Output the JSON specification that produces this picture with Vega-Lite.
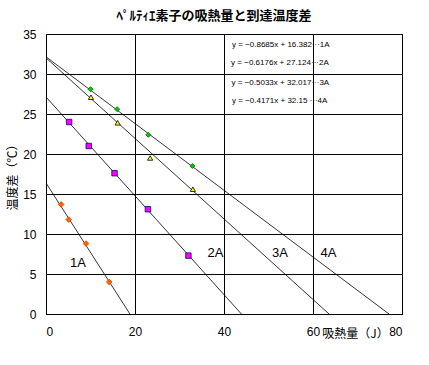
{
  "$schema": "https://vega.github.io/schema/vega-lite/v6.json",
  "width": 356,
  "height": 280,
  "autosize": {"type": "none"},
  "padding": {"left": 46, "top": 34, "right": 27, "bottom": 51},
  "background": "white",
  "title": {
    "text": "ﾍﾟﾙﾃｨｴ素子の吸熱量と到達温度差",
    "font": "Noto Sans CJK JP",
    "fontSize": 13,
    "fontWeight": "bold",
    "color": "black",
    "anchor": "middle",
    "dx": -10,
    "offset": 5
  },
  "config": {
    "view": {"stroke": "black", "strokeWidth": 1},
    "axis": {
      "grid": true,
      "gridColor": "black",
      "gridOpacity": 1,
      "gridWidth": 1,
      "domainColor": "black",
      "domainWidth": 1,
      "ticks": false,
      "labelFont": "Liberation Sans",
      "labelFontSize": 12,
      "labelColor": "black",
      "titleFont": "Noto Sans CJK JP",
      "titleFontSize": 12,
      "titleFontWeight": "normal",
      "titleColor": "black"
    }
  },
  "datasets": {
    "points": [
      {"x": 3.4, "y": 13.7, "series": "1A"},
      {"x": 5.1, "y": 11.8, "series": "1A"},
      {"x": 9.0, "y": 8.8, "series": "1A"},
      {"x": 14.2, "y": 4.0, "series": "1A"},
      {"x": 5.2, "y": 24.0, "series": "2A"},
      {"x": 9.6, "y": 21.0, "series": "2A"},
      {"x": 15.4, "y": 17.6, "series": "2A"},
      {"x": 22.9, "y": 13.1, "series": "2A"},
      {"x": 32.0, "y": 7.3, "series": "2A"},
      {"x": 10.1, "y": 27.1, "series": "3A"},
      {"x": 16.1, "y": 23.9, "series": "3A"},
      {"x": 23.4, "y": 19.5, "series": "3A"},
      {"x": 33.0, "y": 15.6, "series": "3A"},
      {"x": 10.0, "y": 28.1, "series": "4A"},
      {"x": 16.0, "y": 25.6, "series": "4A"},
      {"x": 23.0, "y": 22.4, "series": "4A"},
      {"x": 32.9, "y": 18.5, "series": "4A"}
    ],
    "trend": [
      {"x": 0, "y": 16.382, "series": "1A"},
      {"x": 18.86, "y": 0, "series": "1A"},
      {"x": 0, "y": 27.124, "series": "2A"},
      {"x": 43.92, "y": 0, "series": "2A"},
      {"x": 0, "y": 32.017, "series": "3A"},
      {"x": 63.61, "y": 0, "series": "3A"},
      {"x": 0, "y": 32.15, "series": "4A"},
      {"x": 77.08, "y": 0, "series": "4A"}
    ],
    "equations": [
      {"x": 41.8, "y": 33.65, "text": "y = −0.8685x + 16.382···1A"},
      {"x": 41.6, "y": 31.4, "text": "y = −0.6176x + 27.124···2A"},
      {"x": 41.7, "y": 28.86, "text": "y = −0.5033x + 32.017···3A"},
      {"x": 41.8, "y": 26.57, "text": "y = −0.4171x + 32.15    ···4A"}
    ],
    "labels": [
      {"x": 7.2, "y": 6.4, "text": "1A"},
      {"x": 38.1, "y": 7.6, "text": "2A"},
      {"x": 52.6, "y": 7.6, "text": "3A"},
      {"x": 63.5, "y": 7.6, "text": "4A"}
    ]
  },
  "encoding": {
    "x": {
      "field": "x", "type": "quantitative",
      "scale": {"domain": [0, 80], "nice": false},
      "axis": {
        "values": [0, 20, 40, 60, 80],
        "labelPadding": 12,
        "title": "吸熱量（J）",
        "titleX": 309,
        "titleY": 19,
        "titleAlign": "center",
        "titleBaseline": "middle",
        "titleAnchor": null
      }
    },
    "y": {
      "field": "y", "type": "quantitative",
      "scale": {"domain": [0, 35], "nice": false},
      "axis": {
        "values": [0, 5, 10, 15, 20, 25, 30, 35],
        "labelPadding": 10,
        "title": "温度差（℃）",
        "titleX": -34,
        "titleY": 140,
        "titleAlign": "center",
        "titleBaseline": "middle",
        "titleAngle": -90
      }
    }
  },
  "layer": [
    {
      "data": {"name": "trend"},
      "mark": {"type": "line", "color": "black", "strokeWidth": 0.8, "clip": true},
      "encoding": {"detail": {"field": "series"}}
    },
    {
      "data": {"name": "points"},
      "mark": {"type": "point", "filled": true, "strokeWidth": 0.8, "opacity": 1},
      "encoding": {
        "shape": {
          "field": "series", "type": "nominal",
          "scale": {"domain": ["1A", "2A", "3A", "4A"], "range": ["diamond", "square", "triangle-up", "diamond"]},
          "legend": null
        },
        "fill": {
          "field": "series", "type": "nominal",
          "scale": {"domain": ["1A", "2A", "3A", "4A"], "range": ["#FF6600", "#FF00FF", "#FFFF00", "#00CC00"]},
          "legend": null
        },
        "stroke": {
          "field": "series", "type": "nominal",
          "scale": {"domain": ["1A", "2A", "3A", "4A"], "range": ["#CC4400", "#000080", "#000000", "#006600"]},
          "legend": null
        },
        "size": {
          "field": "series", "type": "nominal",
          "scale": {"domain": ["1A", "2A", "3A", "4A"], "range": [32, 25, 30, 18]},
          "legend": null
        }
      }
    },
    {
      "data": {"name": "equations"},
      "mark": {"type": "text", "align": "left", "baseline": "middle", "font": "Liberation Sans", "fontSize": 8, "color": "black"},
      "encoding": {"text": {"field": "text"}}
    },
    {
      "data": {"name": "labels"},
      "mark": {"type": "text", "align": "center", "baseline": "middle", "font": "Liberation Sans", "fontSize": 13, "color": "black"},
      "encoding": {"text": {"field": "text"}}
    }
  ]
}
